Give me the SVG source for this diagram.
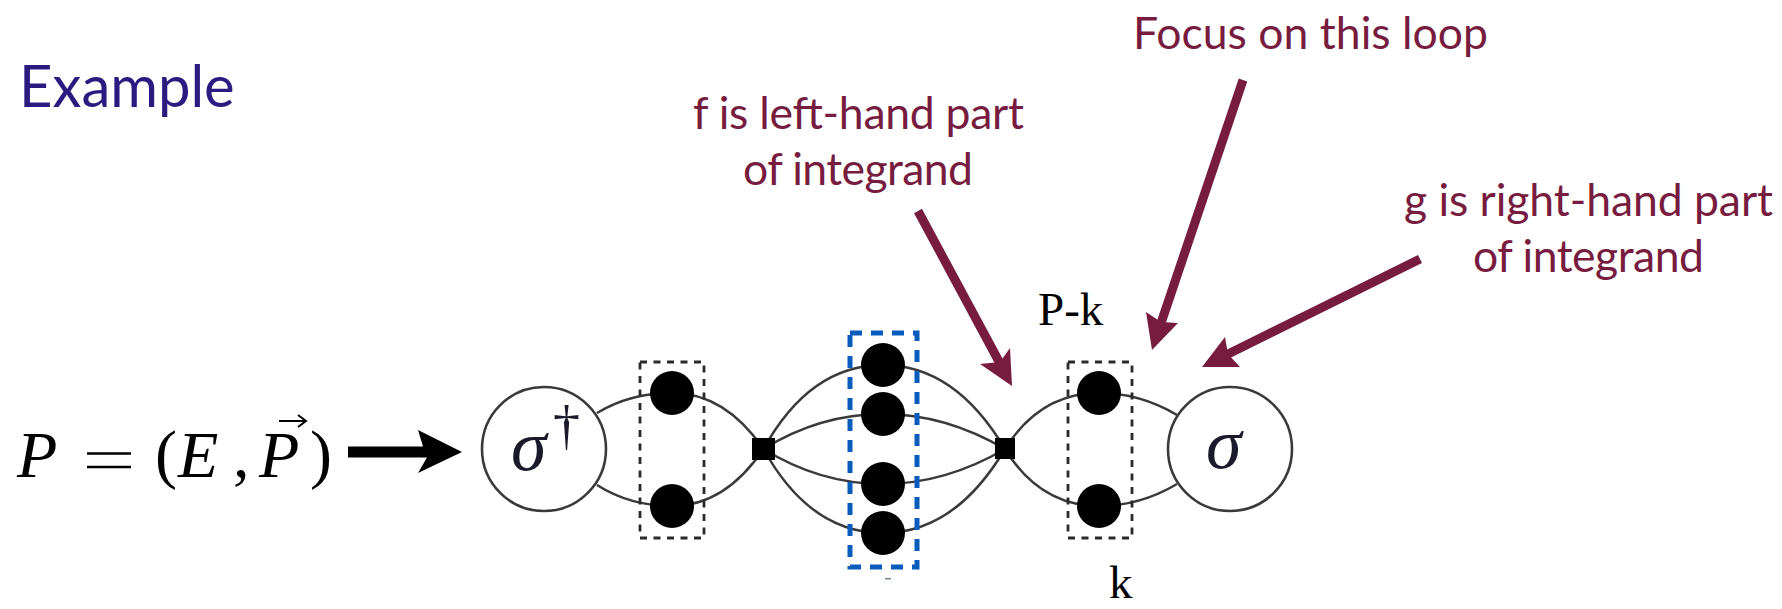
<svg xmlns="http://www.w3.org/2000/svg" width="1782" height="609" viewBox="0 0 1782 609">
<style>
.lab{font-family:"Lato","Noto Sans",sans-serif;font-size:44.5px;fill:#771c3f}
.ser{font-family:"Liberation Serif",serif;font-size:47px;fill:#000}
.math{font-family:"Liberation Serif",serif;font-size:66px;fill:#000}
.sig{font-family:"Liberation Serif",serif;font-style:italic;font-size:72px;fill:#1a1a2a}
.mi{font-style:italic}
.wire{fill:none;stroke:#3a3a3a;stroke-width:2.5}
.ring{fill:#fff;stroke:#3a3a3a;stroke-width:2.6}
.dot{fill:#000}
.box{fill:none;stroke:#2a2a2a;stroke-width:2.8;stroke-dasharray:7 6.5}
.ptr{stroke:#771c3f;stroke-width:9;fill:none}
.head{fill:#771c3f}
</style>
<rect width="1782" height="609" fill="#fff"/>
<text id="title" x="19" y="107" font-family="Lato,'Noto Sans',sans-serif" font-size="58" fill="#2b1a80">Example</text>
<g id="connectors">
<path class="wire" d="M597 413Q630 393 672 393Q725 393 763.500 449Q725 506 672 506Q630 506 597 485"/>
<path class="wire" d="M763.500 449Q810 365 883 365Q955 365 1005 449Q955 533 883 533Q810 533 763.500 449"/>
<path class="wire" d="M763.500 449Q820 414 883 414Q945 414 1005 449Q945 484 883 484Q820 484 763.500 449"/>
<path class="wire" d="M1005 449Q1040 393 1099 393Q1140 393 1177 415M1005 449Q1040 506 1099 506Q1140 506 1177 484"/>
</g>
<g id="input-arrow">
<path d="M348 446.500H423L418 430L462 452L418 473L427 457.500H348Z" fill="#000"/>
</g>
<g id="formula">
<text class="math mi" x="17" y="477">P</text>
<path d="M87 453.500H131M87 467H131" stroke="#000" stroke-width="2.600" fill="none"/>
<text class="math" x="155" y="477" transform="translate(0 -1)">(</text>
<text class="math mi" x="178" y="477">E</text>
<text class="math" x="233" y="477">,</text>
<text class="math mi" x="259" y="477">P</text>
<path d="M279 421H305M298 415L306 421L298 427" stroke="#000" stroke-width="2" fill="none"/>
<text class="math" x="310" y="477" transform="translate(0 -1)">)</text>
</g>
<g id="sigma-dagger">
<circle class="ring" cx="544" cy="449" r="62"/>
<text class="sig" x="511" y="470">σ</text>
<text x="553" y="444" font-family="'Liberation Serif',serif" font-size="54" fill="#1a1a2a">†</text>
</g>
<g id="left-pair">
<rect class="box" x="640" y="362" width="64" height="176"/>
<circle class="dot" cx="672" cy="393" r="22"/>
<circle class="dot" cx="672" cy="506" r="22"/>
</g>
<g id="left-vertex"><rect class="dot" x="752" y="438" width="23" height="22"/></g>
<g id="middle-group">
<circle class="dot" cx="883" cy="365" r="22"/>
<circle class="dot" cx="883" cy="414" r="22"/>
<circle class="dot" cx="883" cy="484" r="22"/>
<circle class="dot" cx="883" cy="533" r="22"/>
<rect x="850" y="333" width="67" height="234" fill="none" stroke="#0a5cbc" stroke-width="5" stroke-dasharray="12 9"/>
<rect x="885" y="578" width="6" height="1.500" fill="#7a8a9a"/>
</g>
<g id="right-vertex"><rect class="dot" x="995" y="438" width="20" height="21"/></g>
<g id="right-pair">
<rect class="box" x="1068" y="362" width="64" height="176"/>
<circle class="dot" cx="1099" cy="393" r="22"/>
<circle class="dot" cx="1099" cy="506" r="22"/>
</g>
<g id="sigma">
<circle class="ring" cx="1230" cy="449" r="62"/>
<text class="sig" x="1206" y="468">σ</text>
</g>
<text class="ser" x="1038" y="325">P-k</text>
<text class="ser" x="1109" y="598">k</text>
<g id="pointers">
<path class="ptr" d="M918 211L1003 369"/>
<path class="ptr" d="M1243 80L1158 332"/>
<path class="ptr" d="M1420 259L1218 359"/>
<path class="head" d="M1012 386L980 364L1000 362L1010 348Z"/>
<path class="head" d="M1152 350L1146 312L1161 322L1178 323Z"/>
<path class="head" d="M1202 367L1225 337L1228 354L1240 367Z"/>
</g>
<text class="lab" x="693" y="129" textLength="331" lengthAdjust="spacing">f is left-hand part</text>
<text class="lab" x="743" y="185" textLength="230" lengthAdjust="spacing">of integrand</text>
<text class="lab" x="1133" y="49" textLength="355" lengthAdjust="spacing">Focus on this loop</text>
<text class="lab" x="1404" y="216" textLength="369" lengthAdjust="spacing">g is right-hand part</text>
<text class="lab" x="1473" y="272" textLength="231" lengthAdjust="spacing">of integrand</text>
</svg>
